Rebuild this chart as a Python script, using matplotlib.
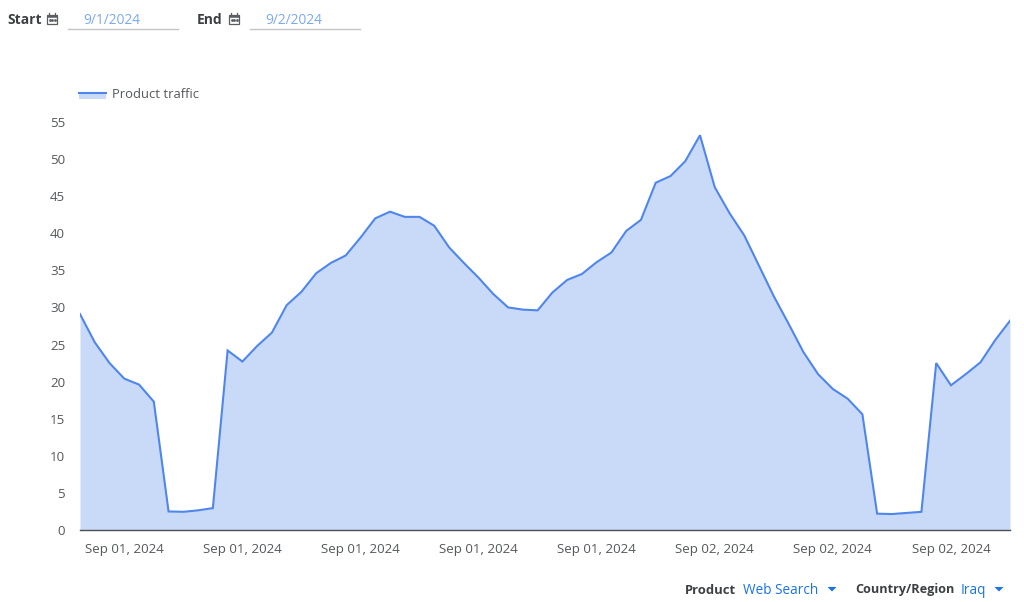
import numpy as np
import matplotlib
matplotlib.use("Agg")
import matplotlib.pyplot as plt
from matplotlib.patches import Rectangle, Polygon

# product traffic
traffic = [29.1, 25.3, 22.5, 20.4, 19.6, 17.3, 2.5, 2.45, 2.65, 2.95, 24.2, 22.7, 24.8, 26.6, 30.3, 32.1,
           34.6, 36.0, 37.0, 39.4, 42.0, 42.9, 42.2, 42.2, 41.0, 38.1, 36.0, 34.0, 31.8, 30.0, 29.7, 29.6,
           32.0, 33.7, 34.5, 36.1, 37.4, 40.3, 41.8, 46.8, 47.7, 49.7, 53.2, 46.2, 42.7, 39.7, 35.6, 31.5,
           27.8, 24.0, 21.0, 19.0, 17.7, 15.6, 2.2, 2.15, 2.3, 2.45, 22.5, 19.5, 21.0, 22.6, 25.6, 28.2]
y_ticks = [0, 5, 10, 15, 20, 25, 30, 35, 40, 45, 50, 55]
x_tick_pos = [3, 11, 19, 27, 35, 43, 51, 59]
x_tick_labels = ["Sep 01, 2024"] * 5 + ["Sep 02, 2024"] * 3

BLUE = "#4f86ec"
FILL = "#c9daf8"
TEXT = "#55585c"
DARK = "#3c4043"
LINK = "#1a73e8"

W, H = 1024, 602
plt.rcParams["font.family"] = ["Open Sans", "DejaVu Sans"]

fig = plt.figure(figsize=(W / 100, H / 100), dpi=100, facecolor="white")

# chart area, y axis runs 0 at 530px to 55 at 122px
ax = fig.add_axes([80 / W, (H - 530) / H, 930 / W, (530 - 116) / H])
x = np.arange(len(traffic))
ax.fill_between(x, traffic, 0, color=FILL, linewidth=0)
ax.plot(x, traffic, color=BLUE, linewidth=1.5, solid_joinstyle="miter")
ax.set_xlim(0, len(traffic) - 1)
ax.set_ylim(0, (530 - 116) / 7.42)
ax.set_yticks(y_ticks)
ax.set_xticks(x_tick_pos)
ax.set_xticklabels(x_tick_labels)
ax.tick_params(axis="both", length=0, labelsize=9.6, labelcolor=TEXT)
ax.tick_params(axis="x", pad=9)
ax.tick_params(axis="y", pad=10.7)
for s in ["top", "right", "left"]:
    ax.spines[s].set_visible(False)
ax.spines["bottom"].set_color("#4a4d52")
ax.spines["bottom"].set_linewidth(1)
ax.spines["bottom"].set_zorder(5)

# controls and legend drawn in pixel coordinates
ui = fig.add_axes([0, 0, 1, 1], facecolor="none")
ui.set_xlim(0, W)
ui.set_ylim(H, 0)
ui.axis("off")


def calendar(cx, cy):
    col = "#5a5d61"
    ui.add_patch(Rectangle((cx - 5, cy - 4.5), 10, 9.5, fc="white", ec=col, lw=0.9))
    ui.add_patch(Rectangle((cx - 5, cy - 4.5), 10, 2, fc=col, ec=col, lw=0.4))
    ui.plot([cx - 2.5, cx, cx + 2.5], [cy + 0.5, cy + 0.5, cy + 0.5], ls="none", marker="s", ms=0.9, color=col)
    ui.plot([cx - 3, cx - 3], [cy - 6, cy - 4], color=col, lw=0.9)
    ui.plot([cx + 3, cx + 3], [cy - 6, cy - 4], color=col, lw=0.9)


def dropdown(cx, cy):
    ui.add_patch(Polygon([(cx - 4.5, cy - 2), (cx + 4.5, cy - 2), (cx, cy + 2.5)], fc=LINK, ec="none"))


ui.text(7, 19.5, "Start", fontsize=10, fontweight="bold", color=DARK, va="center")
calendar(52, 19)
ui.text(83, 20, "9/1/2024", fontsize=9.9, color="#7baaf0", va="center")
ui.plot([68, 178], [28.5, 28.5], color="#c4c4c4", lw=1)

ui.text(197, 19.5, "End", fontsize=10, fontweight="bold", color=DARK, va="center")
calendar(234, 19)
ui.text(265, 20, "9/2/2024", fontsize=9.9, color="#7baaf0", va="center")
ui.plot([250, 360], [28.5, 28.5], color="#c4c4c4", lw=1)

ui.add_patch(Rectangle((79, 92), 27, 7, fc=FILL, ec="none"))
ui.plot([79, 106], [92.5, 92.5], color=BLUE, lw=1.5)
ui.text(112, 94.5, "Product traffic", fontsize=9.4, color=TEXT, va="center")

ui.text(685, 590, "Product", fontsize=9.4, fontweight="bold", color=DARK, va="center")
ui.text(743, 590, "Web Search", fontsize=9.8, color=LINK, va="center")
dropdown(832, 589)
ui.text(855, 590, "Country/Region", fontsize=9.1, fontweight="bold", color=DARK, va="center")
ui.text(961, 590, "Iraq", fontsize=9.8, color=LINK, va="center")
dropdown(999, 589)

fig.savefig("out.png", dpi=100, facecolor="white")
